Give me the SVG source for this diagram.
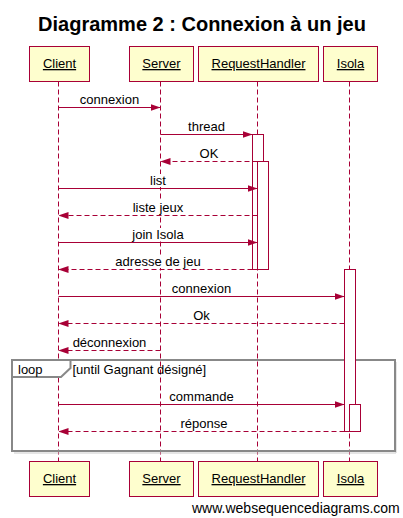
<svg xmlns="http://www.w3.org/2000/svg" width="403" height="518" viewBox="0 0 403 518">
<defs>
<style>
text{font-family:"Liberation Sans",Arial,sans-serif;fill:#000}
.title{font-size:20px;font-weight:bold;text-anchor:middle}
.box rect{fill:#FEFECE;stroke:#A80036;stroke-width:1}
.box text{font-size:13px;text-anchor:middle;text-decoration:underline}
.life{stroke:#A80036;stroke-width:1;stroke-dasharray:5,3;fill:none}
.act{fill:#fff;stroke:#A80036;stroke-width:1}
.msg{stroke:#A80036;stroke-width:1;fill:none;marker-end:url(#ah)}
.ret{stroke-dasharray:5,3}
.lbl{font-size:13px;text-anchor:middle}
.bg{fill:#fff}
.frame{fill:none;stroke:#888;stroke-width:2}
.tab{fill:#fff;stroke:#888;stroke-width:2}
.ftxt{font-size:13px}
.wm{font-size:14px}
</style>
<marker id="ah" markerUnits="userSpaceOnUse" markerWidth="10" markerHeight="8" refX="10" refY="3.5" orient="auto">
<path d="M0,0 L10,3.5 L0,7 z" fill="#A80036"/>
</marker>
</defs>
<rect width="403" height="518" fill="#fff"/>
<text class="title" x="202" y="31">Diagramme 2 : Connexion à un jeu</text>

<g id="lifelines">
<line class="life" x1="58.5" y1="81.5" x2="58.5" y2="461.5"/>
<line class="life" x1="160.5" y1="81.5" x2="160.5" y2="461.5"/>
<line class="life" x1="257.5" y1="81.5" x2="257.5" y2="461.5"/>
<line class="life" x1="349.5" y1="81.5" x2="349.5" y2="461.5"/>
</g>

<g id="loop">
<polyline points="14,453 396,453 396,362" fill="none" stroke="#ccc" stroke-width="1"/>
<rect class="frame" x="12" y="360" width="383" height="91"/>
<path class="tab" d="M12,360 L70.5,360 L70.5,368 L61,377 L12,377 Z"/>
<text class="ftxt" x="18" y="374">loop</text>
<text class="ftxt" x="72.5" y="374">[until Gagnant désigné]</text>
</g>

<g id="Client">
<g class="box"><rect x="29.5" y="46.5" width="60" height="35"/><text x="59.5" y="68">Client</text></g>
<g class="box"><rect x="29.5" y="461.5" width="60" height="35"/><text x="59.5" y="483">Client</text></g>
</g>
<g id="Server">
<g class="box"><rect x="129.5" y="46.5" width="64" height="35"/><text x="161.5" y="68">Server</text></g>
<g class="box"><rect x="129.5" y="461.5" width="64" height="35"/><text x="161.5" y="483">Server</text></g>
</g>
<g id="RequestHandler">
<g class="box"><rect x="198.5" y="46.5" width="120" height="35"/><text x="258.5" y="68">RequestHandler</text></g>
<g class="box"><rect x="198.5" y="461.5" width="120" height="35"/><text x="258.5" y="483">RequestHandler</text></g>
<rect class="act" x="252.5" y="134.5" width="11" height="135"/>
<rect class="act" x="257.5" y="161.5" width="11" height="108"/>
</g>
<g id="Isola">
<g class="box"><rect x="323.5" y="46.5" width="54" height="35"/><text x="350.5" y="68">Isola</text></g>
<g class="box"><rect x="323.5" y="461.5" width="54" height="35"/><text x="350.5" y="483">Isola</text></g>
<rect class="act" x="344.5" y="269.5" width="11" height="162"/>
<rect class="act" x="349.5" y="404.5" width="11" height="27"/>
</g>

<g id="connectors">
<line class="msg" x1="58.5" y1="107.5" x2="160.5" y2="107.5"/>
<text class="lbl" x="109.5" y="104">connexion</text>
<line class="msg" x1="160.5" y1="134.5" x2="252.5" y2="134.5"/>
<text class="lbl" x="206.5" y="131">thread</text>
<line class="msg ret" x1="257.5" y1="161.5" x2="160.5" y2="161.5"/>
<text class="lbl" x="209" y="158">OK</text>
<rect class="bg" x="149" y="174" width="18" height="13"/>
<line class="msg" x1="58.5" y1="188.5" x2="257.5" y2="188.5"/>
<text class="lbl" x="158" y="185">list</text>
<rect class="bg" x="132" y="201" width="52" height="13"/>
<line class="msg ret" x1="257.5" y1="215.5" x2="58.5" y2="215.5"/>
<text class="lbl" x="158" y="212">liste jeux</text>
<rect class="bg" x="132" y="228" width="52" height="13"/>
<line class="msg" x1="58.5" y1="242.5" x2="257.5" y2="242.5"/>
<text class="lbl" x="158" y="239">join Isola</text>
<rect class="bg" x="115" y="255" width="87" height="13"/>
<line class="msg ret" x1="252.5" y1="269.5" x2="58.5" y2="269.5"/>
<text class="lbl" x="158" y="266">adresse de jeu</text>
<line class="msg" x1="58.5" y1="296.5" x2="344.5" y2="296.5"/>
<text class="lbl" x="201.5" y="293">connexion</text>
<line class="msg ret" x1="344.5" y1="323.5" x2="58.5" y2="323.5"/>
<text class="lbl" x="201.5" y="320">Ok</text>
<line class="msg ret" x1="160.5" y1="350.5" x2="58.5" y2="350.5"/>
<text class="lbl" x="109.5" y="347">déconnexion</text>
<line class="msg" x1="58.5" y1="404.5" x2="344.5" y2="404.5"/>
<text class="lbl" x="201.5" y="401">commande</text>
<line class="msg ret" x1="344.5" y1="431.5" x2="58.5" y2="431.5"/>
<text class="lbl" x="204" y="428">réponse</text>
</g>

<text class="wm" x="192" y="513">www.websequencediagrams.com</text>
</svg>
